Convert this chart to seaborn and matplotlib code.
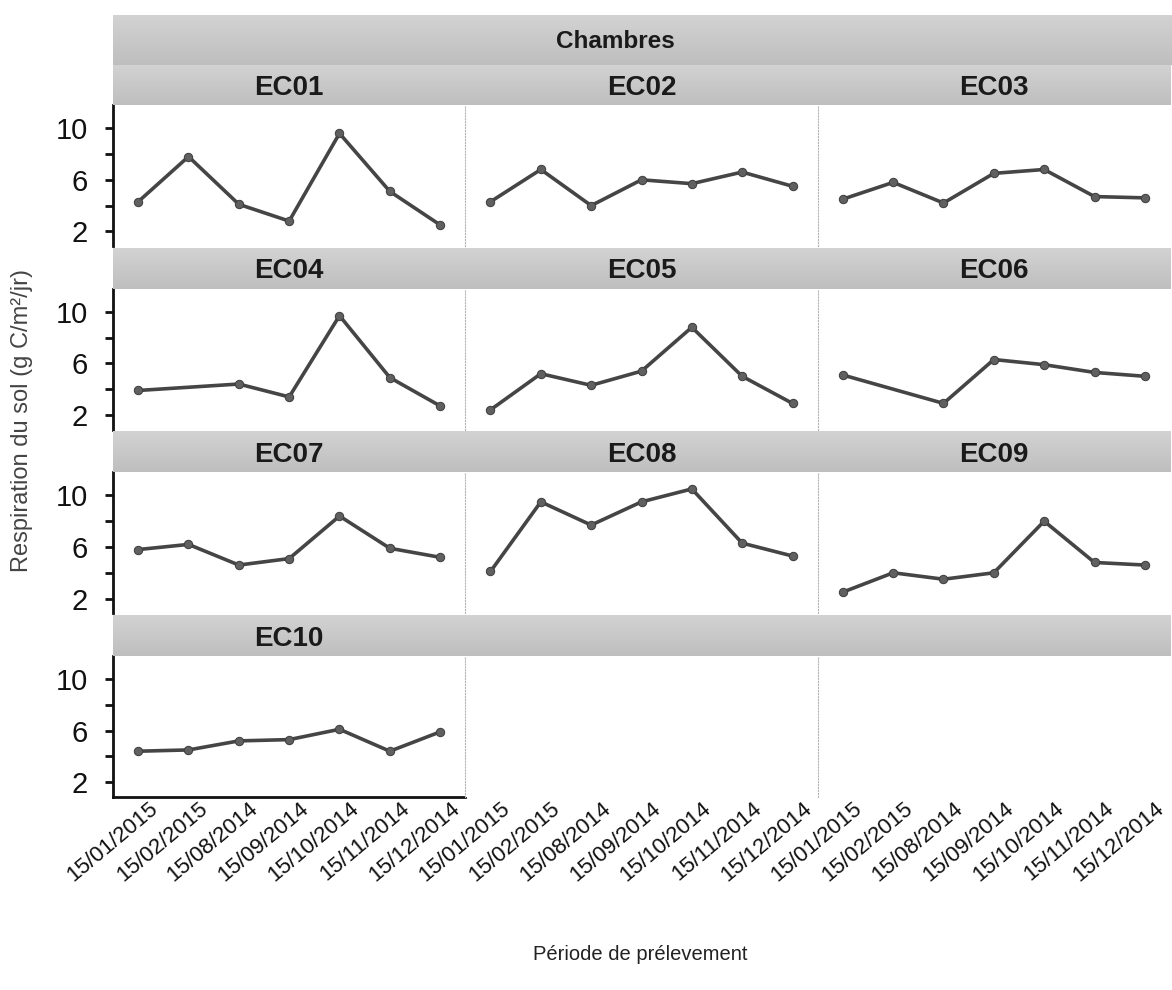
import numpy as np
import pandas as pd
import matplotlib
matplotlib.use("Agg")
import matplotlib.pyplot as plt
import matplotlib.transforms as mtrans
import seaborn as sns

# ---- data ----
dates = ["15/01/2015", "15/02/2015", "15/08/2014", "15/09/2014",
         "15/10/2014", "15/11/2014", "15/12/2014"]
chambres = ["EC01", "EC02", "EC03", "EC04", "EC05",
            "EC06", "EC07", "EC08", "EC09", "EC10"]
EC01 = [4.3, 7.8, 4.1, 2.8, 9.6, 5.1, 2.5]
EC02 = [4.3, 6.8, 4.0, 6.0, 5.7, 6.6, 5.5]
EC03 = [4.5, 5.8, 4.2, 6.5, 6.8, 4.7, 4.6]
EC04 = [3.9, None, 4.4, 3.4, 9.7, 4.9, 2.7]
EC05 = [2.4, 5.2, 4.3, 5.4, 8.8, 5.0, 2.9]
EC06 = [5.1, None, 2.9, 6.3, 5.9, 5.3, 5.0]
EC07 = [5.8, 6.2, 4.6, 5.1, 8.4, 5.9, 5.2]
EC08 = [4.1, 9.5, 7.7, 9.5, 10.5, 6.3, 5.3]
EC09 = [2.5, 4.0, 3.5, 4.0, 8.0, 4.8, 4.6]
EC10 = [4.4, 4.5, 5.2, 5.3, 6.1, 4.4, 5.9]
series = [EC01, EC02, EC03, EC04, EC05, EC06, EC07, EC08, EC09, EC10]
ytick_vals = [2, 4, 6, 8, 10]
ytick_labels = ["2", "", "6", "", "10"]

rows = []
for name, vals in zip(chambres, series):
    for i, (d, v) in enumerate(zip(dates, vals)):
        if v is not None:
            rows.append({"chambre": name, "date": d, "pos": i, "resp": v})
df = pd.DataFrame(rows)

sns.set_theme(style="white")
plt.rcParams["font.family"] = ["Liberation Sans", "DejaVu Sans"]

empty_facets = ["", " "]
g = sns.FacetGrid(df, col="chambre", col_wrap=3,
                  col_order=chambres + empty_facets,
                  sharex=True, sharey=True, height=2, aspect=1.7,
                  despine=False)
g.map_dataframe(sns.lineplot, x="pos", y="resp", color="#454545",
                linewidth=2.6, marker="o", markersize=6,
                markeredgecolor="#404040", markerfacecolor="#606060")

fig = g.figure
W, H = 1172, 990
fig.set_size_inches(W / 100, H / 100)
fig.subplots_adjust(left=113 / W, right=1 - 2 / W, top=1 - 105 / H,
                    bottom=1 - 797 / H, wspace=0.0, hspace=0.3)

shift = mtrans.ScaledTranslation(10 / 100, 10 / 100, fig.dpi_scale_trans)

axes = g.axes.flatten()
for k, ax in enumerate(axes):
    r, c = divmod(k, 3)
    ax.set_title("")
    ax.set_xlabel("")
    ax.set_ylabel("")
    ax.set_xlim(-0.5, 6.5)
    ax.set_ylim(0.85, 11.8)
    ax.set_xticks(range(len(dates)))
    ax.set_yticks(ytick_vals)
    ax.set_facecolor("white")
    for s in ["top", "right", "bottom"]:
        ax.spines[s].set_visible(False)
    if c == 0:
        ax.spines["left"].set_color("#111111")
        ax.spines["left"].set_linewidth(2.0)
        ax.set_yticklabels(ytick_labels)
        ax.tick_params(axis="y", which="major", left=True, length=6,
                       width=2, color="#111111", labelsize=21,
                       labelcolor="#111111", pad=12)
    else:
        ax.spines["left"].set_color("#b5b5b5")
        ax.spines["left"].set_linewidth(0.8)
        ax.spines["left"].set_linestyle(":")
        ax.tick_params(axis="y", left=False, labelleft=False)
    if r == 3:
        if c == 0:
            ax.spines["bottom"].set_visible(True)
            ax.spines["bottom"].set_color("#111111")
            ax.spines["bottom"].set_linewidth(2.0)
        ax.set_xticklabels(dates, rotation=40, ha="right", va="top",
                           rotation_mode="anchor")
        ax.tick_params(axis="x", bottom=False, labelbottom=True,
                       labelsize=16, labelcolor="#111111", pad=2)
        for lab in ax.get_xticklabels():
            lab.set_transform(lab.get_transform() + shift)
    else:
        ax.tick_params(axis="x", bottom=False, labelbottom=False)

# strips with gradient
grad = np.linspace(0, 1, 64).reshape(-1, 1)
def add_strip(x0, y0, w, h, text, size=20):
    sax = fig.add_axes([x0, y0, w, h])
    sax.imshow(grad, aspect="auto", cmap="Greys", vmin=-3.1, vmax=8.0,
               extent=(0, 1, 0, 1), origin="upper")
    sax.set_axis_off()
    if text.strip():
        sax.text(0.5, 0.42, text, ha="center", va="center",
                 fontsize=size, fontweight="bold", color="#1a1a1a",
                 transform=sax.transAxes)
    return sax

strip_h = 41 / H
labels = chambres + empty_facets
for k, ax in enumerate(axes):
    pos = ax.get_position()
    add_strip(pos.x0, pos.y1, pos.width, strip_h, labels[k])

add_strip(113 / W, 1 - 65 / H, 1 - 113 / W, 50 / H, "")
fig.text(615 / W, 1 - 42 / H, "Chambres", ha="center", va="center",
         fontsize=17.5, fontweight="bold", color="#1a1a1a")

fig.text(22 / W, 1 - 420 / H, "Respiration du sol (g C/m²/jr)",
         rotation=90, ha="center", va="center", fontsize=17,
         color="#444444")
fig.text(640 / W, 1 - 955 / H, "Période de prélevement",
         ha="center", va="center", fontsize=14.5, color="#222222")

fig.savefig("out.png", dpi=100, facecolor="white")
